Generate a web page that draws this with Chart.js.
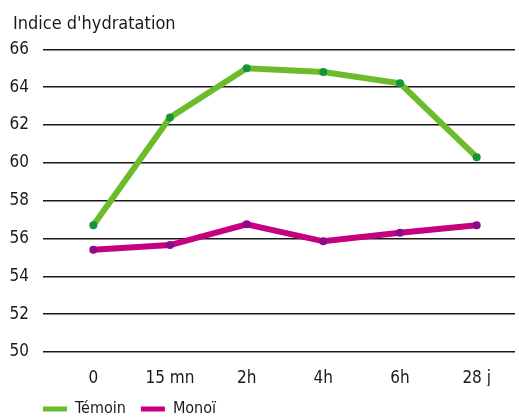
<!DOCTYPE html>
<html>
<head>
<meta charset="utf-8">
<script src="https://cdn.jsdelivr.net/npm/chart.js@4"></script>
<style>
  html, body { margin: 0; padding: 0; background: #fff; overflow: hidden; }
  .wrap { position: relative; width: 519px; height: 427px; }
</style>
</head>
<body>
<div class="wrap"><canvas id="chart"></canvas></div>
<script>
// data
const categories = ['0', '15 mn', '2h', '4h', '6h', '28 j'];
const temoin = [56.7, 62.4, 65.0, 64.8, 64.2, 60.3];
const monoi = [55.4, 55.65, 56.75, 55.85, 56.3, 56.7];
const yMin = 50, yMax = 66, yStep = 2;

const font = "'Liberation Sans Narrow', 'Arial Narrow', 'DejaVu Sans Condensed', 'Liberation Sans', sans-serif";
const ink = '#1a1a1a';

// nudge title and legend sideways so they line up like the original
const shiftBoxes = {
  id: 'shiftBoxes',
  afterLayout(chart) {
    chart.titleBlock.left += 13;
    chart.titleBlock.right += 13;
    chart.legend.left += 28;
    chart.legend.right += 28;
  }
};

const ctx = document.getElementById('chart').getContext('2d');
const chart = new Chart(ctx, {
  type: 'line',
  data: {
    labels: categories,
    datasets: [{
      label: 'Témoin',
      data: temoin,
      borderColor: '#6cbb2a',
      backgroundColor: '#6cbb2a',
      borderWidth: 6,
      pointRadius: 4,
      pointBorderWidth: 0,
      pointBackgroundColor: '#16943a',
      tension: 0
    },
    {
      label: 'Monoï',
      data: monoi,
      borderColor: '#c6007e',
      backgroundColor: '#c6007e',
      borderWidth: 6,
      pointRadius: 4,
      pointBorderWidth: 0,
      pointBackgroundColor: '#8c0a88',
      tension: 0
    }]
  },
  options: {
    responsive: true,
    maintainAspectRatio: false,
    animation: false,
    layout: { padding: 0 },
    scales: {
      x: {
        offset: true,
        grid: { display: false },
        border: { display: false },
        ticks: { color: ink, font: { family: font, size: 17 }, padding: 8, maxRotation: 0 },
        afterFit: (scale) => { scale.height = 34; }
      },
      y: {
        min: yMin,
        max: yMax,
        border: { display: false },
        grid: { color: ink, lineWidth: 1.5, drawTicks: true, tickLength: 12 },
        ticks: { stepSize: yStep, color: ink, font: { family: font, size: 17 }, padding: 14 },
        afterFit: (scale) => { scale.width = 55; }
      }
    },
    plugins: {
      title: {
        display: true,
        text: "Indice d'hydratation",
        align: 'start',
        color: ink,
        font: { family: font, size: 18, weight: 'normal' },
        padding: { top: 14, bottom: 13.7 }
      },
      legend: {
        position: 'bottom',
        align: 'start',
        labels: {
          color: ink,
          font: { family: font, size: 16 },
          boxWidth: 24,
          boxHeight: 5,
          padding: 15,
          generateLabels: (c) => Chart.defaults.plugins.legend.labels.generateLabels(c).map(item => {
            item.lineWidth = 0;
            return item;
          })
        }
      },
      tooltip: { enabled: false }
    }
  },
  plugins: [shiftBoxes]
});
</script>
</body>
</html>
